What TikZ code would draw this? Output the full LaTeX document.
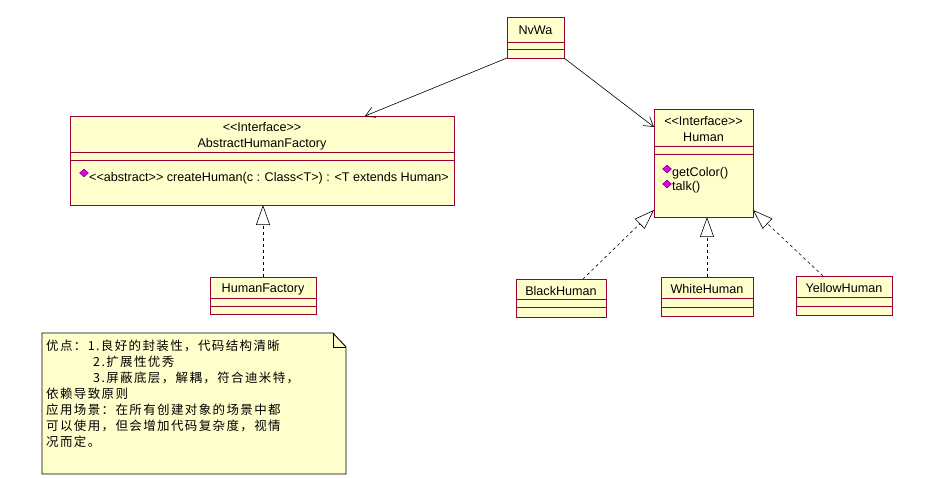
\documentclass[tikz,border=0pt]{standalone}
\usepackage{fontspec}
\setmainfont{Liberation Sans}
\newfontfamily\cjk[LetterSpace=11]{Noto Sans CJK SC}
\usetikzlibrary{arrows.meta,calc,shapes.geometric}
\definecolor{umlfill}{RGB}{255,255,204}
\definecolor{umlline}{RGB}{153,0,51}
\definecolor{opmark}{RGB}{230,0,230}
\definecolor{opedge}{RGB}{110,0,110}
\newcommand\umlclass[7]{%
  \node[cls, minimum width=#4pt, minimum height=#5pt] (#1) at (#2,#3) {};
  \draw[umlline, line width=0.9pt] (#1.west |- 0,#6) -- (#1.east |- 0,#6)
                                   (#1.west |- 0,#7) -- (#1.east |- 0,#7);}
\newcommand\lt{{<}}
\newcommand\gt{{>}}
\begin{document}
\begin{tikzpicture}[x=1pt,y=-1pt,
  cls/.style={draw=umlline, fill=umlfill, line width=0.9pt, anchor=north west, inner sep=0pt, outer sep=0pt},
  lbl/.style={anchor=base, inner sep=0pt, font=\fontsize{12.6}{14}\selectfont},
  lbll/.style={anchor=base west, inner sep=0pt, font=\fontsize{12.6}{14}\selectfont},
  notetext/.style={anchor=base west, inner sep=0pt, font=\fontsize{12.5}{14}\selectfont\cjk},
  opdiamond/.style={diamond, draw=opedge, fill=opmark, line width=0.5pt, inner sep=0pt, minimum width=9pt, minimum height=8pt},
  assoc/.style={draw=black, line width=0.6pt, -{Straight Barb[length=9pt,width=11pt,line width=0.6pt]}},
  realize/.style={draw=black, line width=0.6pt, dash pattern=on 3pt off 3pt, -{Triangle[open,length=20pt,width=14pt,fill=white,line width=0.6pt]}},
]
\useasboundingbox (0,0) rectangle (942,478);

% classes
\umlclass{nvwa}{507}{17}{57}{41}{42}{49}
\umlclass{ahf}{70}{116}{384}{89}{152}{160}
\umlclass{human}{654}{109}{99}{108}{146}{154}
\umlclass{hf}{210}{277}{106}{37}{298}{306}
\umlclass{bh}{516}{279}{90}{38}{299}{307}
\umlclass{wh}{661}{277}{92}{39}{298}{307}
\umlclass{yh}{796}{276}{96}{39}{297}{306}

% texts
\node[lbl] (tnvwa) at (535.5,35) {NvWa};
\node[lbl] (tahfs) at (262,132) {\lt\lt Interface\gt\gt};
\node[lbl] (tahfn) at (262,148) {AbstractHumanFactory};
\node[opdiamond] (d1) at (84,173) {};
\node[lbll] (tahfm) at (89,182) {\lt\lt abstract\gt\gt\ createHuman(c : Class\lt T\gt) : \lt T extends Human\gt};
\node[lbl] (thums) at (703.5,126) {\lt\lt Interface\gt\gt};
\node[lbl] (thumn) at (703.5,142) {Human};
\node[opdiamond] (d2) at (667,169) {};
\node[lbll] (tgc) at (672,177) {getColor()};
\node[opdiamond] (d3) at (667,184) {};
\node[lbll] (ttalk) at (672,191) {talk()};
\node[lbl] (thf) at (263,293) {HumanFactory};
\node[lbl] (tbh) at (561,295) {BlackHuman};
\node[lbl] (twh) at (707,294) {WhiteHuman};
\node[lbl] (tyh) at (844,293) {YellowHuman};

% connectors
\coordinate (ahfin) at (365,116);
\coordinate (humin) at (654,127);
\draw[assoc] (nvwa.south west) -- (ahfin);
\draw[assoc] (nvwa.south east) -- (humin);
\draw[realize] (hf.north) -- (hf.north |- ahf.south);
\coordinate (bhout) at (583,279);
\coordinate (bhin) at (654,210);
\draw[realize] (bhout) -- (bhin);
\draw[realize] (wh.north) -- (wh.north |- human.south);
\coordinate (yhout) at (823,276);
\coordinate (yhin) at (753,210);
\draw[realize] (yhout) -- (yhin);

% note
\draw[black, fill=umlfill, line width=0.9pt] (42,333) -- (333,333) -- (346,347) -- (346,474) -- (42,474) -- cycle;
\draw[black, line width=0.6pt] (333,333) -- (333,347) -- (346,347);
\node[notetext] (n1) at (46,350) {优点：1.良好的封装性，代码结构清晰};
\node[notetext] (n2) at (93,366) {2.扩展性优秀};
\node[notetext] (n3) at (93,382) {3.屏蔽底层，解耦，符合迪米特，};
\node[notetext] (n4) at (46,398) {依赖导致原则};
\node[notetext] (n5) at (46,414) {应用场景：在所有创建对象的场景中都};
\node[notetext] (n6) at (46,430) {可以使用，但会增加代码复杂度，视情};
\node[notetext] (n7) at (46,446) {况而定。};
\end{tikzpicture}
\end{document}
